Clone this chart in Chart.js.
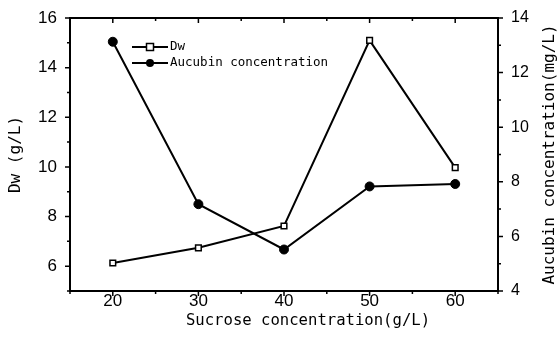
<!DOCTYPE html>
<html><head><meta charset="utf-8">
<script src="https://cdn.jsdelivr.net/npm/chart.js@4/dist/chart.umd.min.js"></script>
<style>html,body{margin:0;padding:0;background:#fff}#wrap{width:559px;height:344px}</style>
</head><body><div id="wrap"><canvas id="c" width="559" height="344"></canvas></div>
<script>
const categories = [20, 30, 40, 50, 60];
const dwValues = [6.13, 6.74, 7.62, 15.1, 9.97];
const aucubinValues = [13.13, 7.18, 5.52, 7.83, 7.92];
const seriesNames = ['Dw', 'Aucubin concentration'];
const xTitle = 'Sucrose concentration(g/L)';
const yTitle = 'Dw (g/L)';
const y1Title = 'Aucubin concentration(mg/L)';

const TITLE_FONT = '15.6px "DejaVu Sans Mono", monospace';

const framePlugin = {
  id: 'frame',
  afterDraw(chart) {
    const ctx = chart.ctx, a = chart.chartArea;
    const sx = chart.scales.x, sy = chart.scales.y, sy1 = chart.scales.y1;
    ctx.save();
    ctx.strokeStyle = '#000';
    ctx.lineWidth = 2;
    ctx.strokeRect(a.left, a.top, a.right - a.left, a.bottom - a.top);
    ctx.lineWidth = 1.5;
    ctx.beginPath();
    sx.ticks.forEach(t => {
      const p = sx.getPixelForValue(t.value);
      const major = t.value % 10 === 0;
      const L = major ? 5 : 3;
      ctx.moveTo(p, a.bottom); ctx.lineTo(p, a.bottom + L);
      ctx.moveTo(p, a.top); ctx.lineTo(p, a.top + L);
    });
    sy.ticks.forEach(t => {
      const p = sy.getPixelForValue(t.value);
      const L = t.value % 2 === 0 ? 5 : 3;
      ctx.moveTo(a.left, p); ctx.lineTo(a.left - L, p);
    });
    sy1.ticks.forEach(t => {
      const p = sy1.getPixelForValue(t.value);
      const L = t.value % 2 === 0 ? 5 : 3;
      ctx.moveTo(a.right, p); ctx.lineTo(a.right + L, p);
    });
    ctx.stroke();

    // axis titles
    ctx.fillStyle = '#000';
    ctx.font = TITLE_FONT;
    ctx.textAlign = 'center';
    ctx.textBaseline = 'middle';
    ctx.fillText(xTitle, 308, 321);
    ctx.save();
    ctx.font = '16px "DejaVu Sans Mono", monospace';
    ctx.translate(16, (a.top + a.bottom) / 2);
    ctx.rotate(-Math.PI / 2);
    ctx.fillText(yTitle, 0, 0);
    ctx.restore();
    ctx.save();
    ctx.font = '16px "DejaVu Sans Mono", monospace';
    ctx.translate(550, (a.top + a.bottom) / 2);
    ctx.rotate(-Math.PI / 2);
    ctx.fillText(y1Title, 0, 0);
    ctx.restore();

    // legend inside plot
    const lx = a.left + 62, ly = a.top + 29;
    ctx.font = '12.5px "DejaVu Sans Mono", monospace';
    ctx.textAlign = 'left';
    chart.data.datasets.forEach((ds, i) => {
      const y = ly + i * 16;
      ctx.lineWidth = 2;
      ctx.strokeStyle = '#000';
      ctx.beginPath(); ctx.moveTo(lx, y); ctx.lineTo(lx + 36, y); ctx.stroke();
      const cx = lx + 18;
      if (ds.pointStyle === 'rect') {
        ctx.fillStyle = '#fff';
        ctx.fillRect(cx - 3.5, y - 3.5, 7, 7);
        ctx.lineWidth = 1.5;
        ctx.strokeRect(cx - 3.5, y - 3.5, 7, 7);
      } else {
        ctx.fillStyle = '#000';
        ctx.beginPath(); ctx.arc(cx, y, 4, 0, Math.PI * 2); ctx.fill();
      }
      ctx.fillStyle = '#000';
      ctx.fillText(ds.label, lx + 38, y);
    });
    ctx.restore();
  }
};

const noPad = s => { s.paddingTop = 0; s.paddingBottom = 0; s.paddingLeft = 0; s.paddingRight = 0; };

new Chart(document.getElementById('c'), {
  type: 'line',
  data: {
    datasets: [
      {
        label: seriesNames[0],
        data: categories.map((c, i) => ({x: c, y: dwValues[i]})),
        yAxisID: 'y',
        borderColor: '#000', borderWidth: 2,
        pointStyle: 'rect', pointRadius: 4,
        pointBackgroundColor: '#fff', pointBorderColor: '#000', pointBorderWidth: 1.5,
        tension: 0
      },
      {
        label: seriesNames[1],
        data: categories.map((c, i) => ({x: c, y: aucubinValues[i]})),
        yAxisID: 'y1',
        borderColor: '#000', borderWidth: 2,
        pointStyle: 'circle', pointRadius: 4.5,
        pointBackgroundColor: '#000', pointBorderColor: '#000', pointBorderWidth: 1,
        tension: 0
      }
    ]
  },
  options: {
    responsive: false,
    animation: false,
    layout: {padding: {top: 18, left: 0, right: 0, bottom: 0}},
    plugins: {legend: {display: false}, tooltip: {enabled: false}},
    scales: {
      x: {
        type: 'linear', min: 15, max: 65,
        grid: {display: false, drawTicks: false},
        border: {display: false},
        ticks: {stepSize: 5, padding: 0, color: '#000', font: {family: '"Liberation Sans", Arial, sans-serif', size: 17},
          callback: v => (v % 10 === 0 && v >= 20 && v <= 60) ? String(v) : ''},
        afterFit: s => { s.height = 53; noPad(s); }
      },
      y: {
        type: 'linear', position: 'left', min: 5, max: 16,
        grid: {display: false, drawTicks: false},
        border: {display: false},
        ticks: {stepSize: 1, padding: 13, color: '#000', font: {family: '"Liberation Sans", Arial, sans-serif', size: 17},
          callback: v => v % 2 === 0 ? String(v) : ''},
        afterFit: s => { s.width = 70; noPad(s); }
      },
      y1: {
        type: 'linear', position: 'right', min: 4, max: 14,
        grid: {display: false, drawTicks: false},
        border: {display: false},
        ticks: {stepSize: 1, padding: 13, color: '#000', font: {family: '"Liberation Sans", Arial, sans-serif', size: 16},
          callback: v => v % 2 === 0 ? String(v) : ''},
        afterFit: s => { s.width = 61; noPad(s); }
      }
    }
  },
  plugins: [framePlugin]
});
</script>
</body></html>
